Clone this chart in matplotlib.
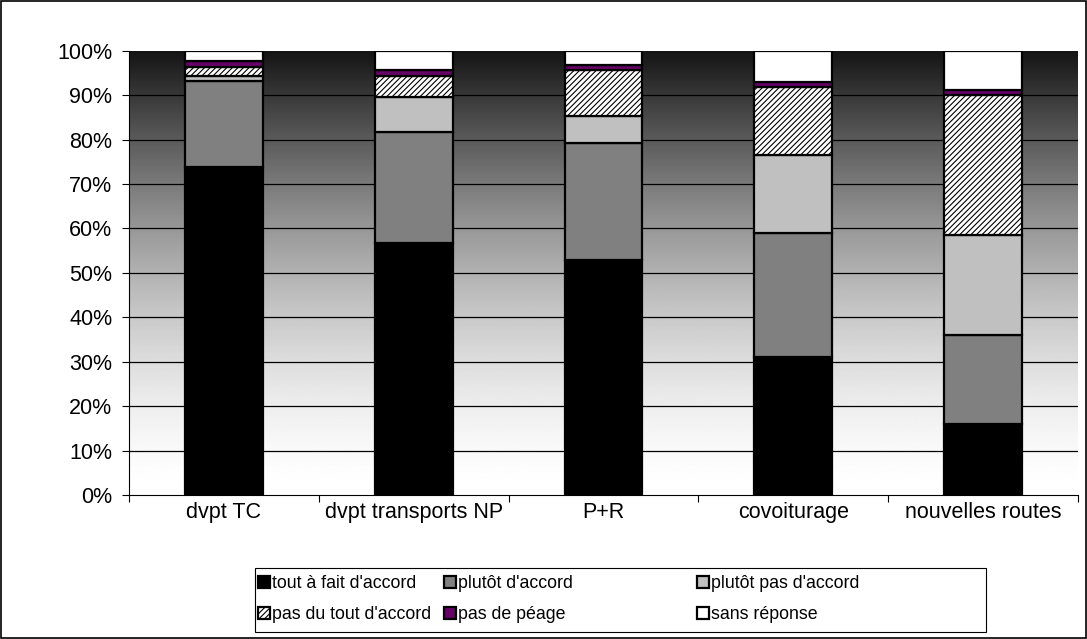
import matplotlib
matplotlib.use("Agg")
import matplotlib.pyplot as plt
import numpy as np
from matplotlib.patches import Rectangle

plt.rcParams['font.family'] = ['Liberation Sans', 'DejaVu Sans']
plt.rcParams['hatch.linewidth'] = 0.8

# survey answers, percent of respondents
categories = ['dvpt TC', 'dvpt transports NP', 'P+R', 'covoiturage', 'nouvelles routes']
answers = ["tout à fait d'accord", "plutôt d'accord", "plutôt pas d'accord",
           "pas du tout d'accord", "pas de péage", "sans réponse"]
tout_a_fait = [73.9, 56.7, 52.9, 31.0, 16.0]
plutot = [19.2, 24.9, 26.4, 28.0, 19.9]
plutot_pas = [1.3, 8.0, 6.1, 17.6, 22.7]
pas_du_tout = [1.9, 4.8, 10.3, 15.3, 31.5]
pas_peage = [1.3, 1.2, 1.1, 1.1, 1.1]
sans_reponse = [2.4, 4.4, 3.2, 7.0, 8.8]

series = [tout_a_fait, plutot, plutot_pas, pas_du_tout, pas_peage, sans_reponse]
colors = ['#000000', '#808080', '#c0c0c0', '#ffffff', '#660066', '#ffffff']
hatches = [None, None, None, '//////', None, None]
FS = 15.5
LFS = 12.8

W, H = 1087, 639
fig = plt.figure(figsize=(W / 100, H / 100), dpi=100)
ax = fig.add_axes([0.1187, 0.2254, 0.873, 0.6953])

x = np.arange(len(categories))
ax.set_xlim(-0.5, len(categories) - 0.5)
ax.set_ylim(0, 100)

# dark-to-light background ramp behind the bars
t = np.linspace(0, 1, 256)[:, None]
shade = (20 + 235 * (1 - t ** 1.6)) / 255
ax.imshow(shade, cmap='gray', vmin=0, vmax=1, origin='lower', aspect='auto',
          extent=(-0.5, len(categories) - 0.5, 0, 100), zorder=0)
for g in range(10, 100, 10):
    ax.axhline(g, color='black', lw=0.9, zorder=1)

bottom = np.zeros(len(categories))
handles = []
for vals, col, hat, lab in zip(series, colors, hatches, answers):
    bars = ax.bar(x, vals, width=0.41, bottom=bottom, color=col, hatch=hat,
                  edgecolor='black', linewidth=1.6, label=lab, zorder=3)
    handles.append(bars)
    bottom += np.array(vals)

ax.set_yticks(range(0, 101, 10))
ax.set_yticklabels([f'{v}%' for v in range(0, 101, 10)], fontsize=FS)
ax.set_xticks(np.arange(-0.5, len(categories), 1.0))
ax.set_xticklabels([])
ax.set_xticks(x, minor=True)
ax.set_xticklabels(categories, minor=True, fontsize=FS)
ax.tick_params(axis='x', which='major', length=5, width=0.8, direction='out')
ax.tick_params(axis='x', which='minor', length=0, pad=5)
ax.tick_params(axis='y', length=5, width=0.8, direction='out', pad=7)
for side in ['top', 'right']:
    ax.spines[side].set_visible(False)
for side in ['left', 'bottom']:
    ax.spines[side].set_linewidth(0.8)
    ax.spines[side].set_zorder(4)

# legend box with three columns, two entries each
fig.patches.append(Rectangle((255 / W, 1 - 632 / H), (986 - 255) / W, (632 - 568) / H,
                             transform=fig.transFigure, fill=False,
                             edgecolor='black', lw=0.8))
col_x = [258, 444, 697]
for c in range(3):
    leg = fig.legend([handles[c], handles[c + 3]], [answers[c], answers[c + 3]],
                     loc='upper left', bbox_to_anchor=(col_x[c] / W, 1 - 575 / H),
                     ncol=1, fontsize=LFS, frameon=False, borderpad=0,
                     handlelength=0.65, handleheight=0.65, handletextpad=0.15,
                     labelspacing=0.8, borderaxespad=0)

fig.patches.append(Rectangle((0.0005, 0.0008), 0.999, 0.998, transform=fig.transFigure,
                             fill=False, edgecolor='black', lw=1.2))

fig.savefig('out.png', dpi=100)
